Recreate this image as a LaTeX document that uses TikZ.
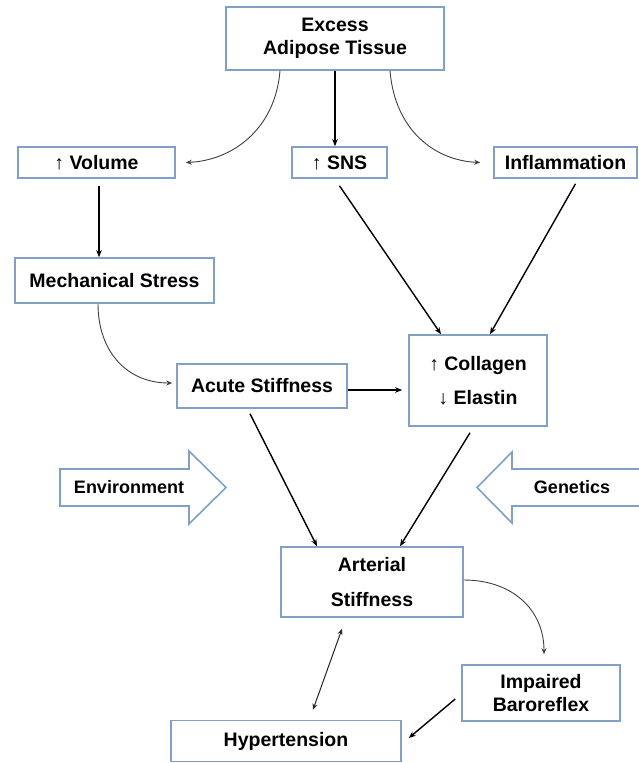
\documentclass[tikz,border=0pt]{standalone}
\usepackage{fontspec}
\setmainfont{Liberation Sans}
\usetikzlibrary{arrows.meta}
\definecolor{boxc}{RGB}{128,160,200}
\begin{document}
\begin{tikzpicture}[x=1pt,y=-1pt,
  bx/.style={draw=boxc, line width=1.6pt, fill=white, inner sep=0pt, align=center,
    font=\fontsize{19.5}{23}\selectfont\bfseries},
  ar/.style={-{Stealth[length=7pt,width=5.5pt]}, line width=1.4pt, black},
  cv/.style={-{Stealth[length=6pt,width=5pt]}, line width=0.9pt, black!75},
  dbl/.style={{Stealth[length=6pt,width=5pt]}-{Stealth[length=6pt,width=5pt]}, line width=1pt, black!85},
  blk/.style={draw=boxc, line width=1.6pt, fill=white, line join=miter},
  blktxt/.style={font=\fontsize{18}{20}\selectfont\bfseries, inner sep=0pt}]
\useasboundingbox (0,0) rectangle (638,763);
\fill[white] (0,0) rectangle (638,763);

% nodes
\node[bx, minimum width=218pt, minimum height=63pt] (excess) at (335,38.5) {Excess\\Adipose Tissue};
\node[bx, minimum width=157pt, minimum height=31pt] (volume) at (96.5,162.5) {↑ Volume};
\node[bx, minimum width=95pt, minimum height=31pt] (sns) at (339.5,162.5) {↑ SNS};
\node[bx, minimum width=143pt, minimum height=31pt] (inflam) at (565.5,162.5) {Inflammation};
\node[bx, minimum width=199pt, minimum height=45pt] (mech) at (114.5,280.5) {Mechanical Stress};
\node[bx, minimum width=170pt, minimum height=44pt] (acute) at (262,386) {Acute Stiffness};
\node[bx, minimum width=138pt, minimum height=91pt, font=\fontsize{19.5}{34}\selectfont\bfseries] (coll) at (478,380.5) {↑ Collagen\\↓ Elastin};
\node[bx, minimum width=182pt, minimum height=70pt, font=\fontsize{19.5}{35}\selectfont\bfseries] (art) at (372,582) {Arterial\\Stiffness};
\node[bx, minimum width=158pt, minimum height=56pt] (imp) at (541,693) {Impaired\\Baroreflex};
\node[bx, minimum width=230pt, minimum height=41pt] (hyp) at (286,741) {Hypertension};

% block arrows
\draw[blk] (60,469) -- (189,469) -- (189,451) -- (226,487.5) -- (189,524) -- (189,506) -- (60,506) -- cycle;
\node[blktxt] (env) at (129,487.5) {Environment};
\draw[blk] (641,469) -- (512,469) -- (512,452) -- (477,487.5) -- (512,523) -- (512,506) -- (641,506);
\node[blktxt] (gen) at (572,487.5) {Genetics};

% connectors
\draw[ar] (excess.south) -- (excess.south |- sns.north);
\draw[cv] ([xshift=-55pt]excess.south) .. controls +(-5,60) and +(45,-2) .. ([xshift=10pt]volume.east);
\draw[cv] ([xshift=55pt]excess.south) .. controls +(5,60) and +(-45,-2) .. ([xshift=-13pt]inflam.west);
\draw[ar, shorten <=7pt] ([xshift=2.5pt]volume.south) -- ([xshift=2.5pt]volume.south |- mech.north);
\draw[ar] ([yshift=-7pt]sns.south) -- ([xshift=-37pt]coll.north);
\draw[ar] ([xshift=10pt,yshift=-5pt]inflam.south) -- ([xshift=12pt]coll.north);
\draw[cv] ([xshift=-16.5pt]mech.south) .. controls +(0,48) and +(-45,0) .. ([xshift=-4pt,yshift=3pt]acute.west);
\draw[ar, shorten >=6pt] ([yshift=-4pt]acute.east) -- ([yshift=-4pt]acute.east -| coll.west);
\draw[ar] ([xshift=-12pt,yshift=-5pt]acute.south) -- ([xshift=-55pt]art.north);
\draw[ar] ([xshift=-8pt,yshift=-6pt]coll.south) -- ([xshift=28pt]art.north);
\draw[cv] ([yshift=2pt]art.east) .. controls +(48,0) and +(0,-45) .. ([xshift=3pt,yshift=10pt]imp.north);
\draw[dbl] ([xshift=-30pt,yshift=-11pt]art.south) -- ([xshift=27pt,yshift=10pt]hyp.north);
\draw[ar] ([xshift=-6pt,yshift=-6pt]imp.west) -- ([xshift=7pt,yshift=3pt]hyp.east);
\end{tikzpicture}
\end{document}
